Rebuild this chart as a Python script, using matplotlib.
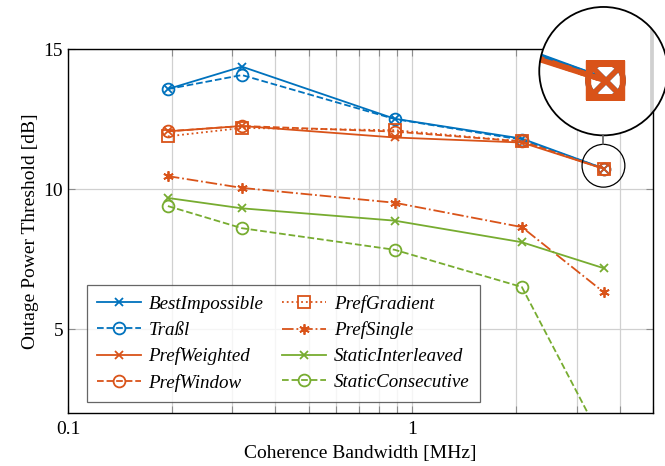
import numpy as np
import matplotlib
matplotlib.use('Agg')
from matplotlib import pyplot as plt
from matplotlib.patches import Circle
from matplotlib.transforms import IdentityTransform

# coherence bandwidth [MHz]
bandwidth = [0.195, 0.32, 0.888, 2.08, 3.6]

best_impossible = [13.57, 14.37, 12.51, 11.80, 10.73]
trassl = [13.57, 14.07, 12.50, 11.76, 10.73]
pref_weighted = [12.06, 12.25, 11.84, 11.66, 10.72]
pref_window = [12.06, 12.25, 12.05, 11.70, 10.72]
pref_gradient = [11.88, 12.18, 12.10, 11.70, 10.72]
pref_single = [10.46, 10.04, 9.51, 8.64, 6.31]
static_interleaved = [9.68, 9.31, 8.87, 8.10, 7.17]
static_consecutive = [9.39, 8.60, 7.83, 6.50, 0.9]

blue = '#0072BD'
orange = '#D95319'
green = '#77AC30'

series = [
    ('BestImpossible', best_impossible, blue, '-', 'x'),
    ('Traßl', trassl, blue, '--', 'o'),
    ('PrefWeighted', pref_weighted, orange, '-', 'x'),
    ('PrefWindow', pref_window, orange, '--', 'o'),
    ('PrefGradient', pref_gradient, orange, ':', 's'),
    ('PrefSingle', pref_single, orange, '-.', (6, 2, 0)),
    ('StaticInterleaved', static_interleaved, green, '-', 'x'),
    ('StaticConsecutive', static_consecutive, green, '--', 'o'),
]
msizes = {'x': 6, 'o': 8.5, 's': 8}

plt.rcParams['font.family'] = ['Liberation Serif', 'DejaVu Serif']


def draw(ax, k=1.0):
    for name, vals, col, ls, mk in series:
        ms = msizes.get(mk, 7.5) if isinstance(mk, str) else 7.5
        ax.plot(bandwidth, vals, color=col, linestyle=ls, marker=mk,
                markerfacecolor='none', markeredgecolor=col,
                markersize=ms * k, markeredgewidth=1.3 * k,
                linewidth=1.3 * k, label=name)


fig = plt.figure(figsize=(6.65, 4.66), dpi=100)
W, H = 665, 466
ax = fig.add_axes([68 / W, (H - 413) / H, (653 - 68) / W, (413 - 49) / H])
draw(ax)
ax.set_xscale('log')
ax.set_xlim(0.1, 5)
ax.set_ylim(2, 15)
ax.set_xticks([0.1, 1])
ax.set_xticklabels(['0.1', '1'])
ax.set_xticks([0.2, 0.3, 0.4, 0.5, 0.6, 0.7, 0.8, 0.9, 2, 3, 4, 5], minor=True)
ax.set_yticks([5, 10, 15])
ax.tick_params(which='both', direction='in', top=True, right=True,
               color='#8c8c8c', labelsize=14, length=5, width=0.8)
ax.tick_params(axis='x', pad=6)
ax.grid(True, which='both', color='#d0d0d0', linewidth=0.9)
ax.set_axisbelow(True)
for s in ax.spines.values():
    s.set_linewidth(1.0)
ax.set_xlabel('Coherence Bandwidth [MHz]', fontsize=14, labelpad=5)
ax.set_ylabel('Outage Power Threshold [dB]', fontsize=14, labelpad=3)

leg = ax.legend(ncol=2, loc='lower left', bbox_to_anchor=(0.032, 0.03),
                borderaxespad=0,
                prop={'family': 'Liberation Serif', 'style': 'italic', 'size': 13.7},
                frameon=True, fancybox=False, edgecolor='#404040',
                handlelength=2.3, columnspacing=1.0, labelspacing=0.45,
                borderpad=0.55, handletextpad=0.4)
leg.get_frame().set_linewidth(0.9)

# spy: magnified view of the last point
fig.canvas.draw()
xc, yc = 3.59, 10.83
cx, cy = ax.transData.transform((xc, yc))
r_small = 21.4
mag = 3.0
r_big = r_small * mag
bx, by = cx, cy + 94.6

fig.add_artist(Circle((cx, cy), r_small, transform=IdentityTransform(),
                      fill=False, edgecolor='black', linewidth=0.9, zorder=5))
fig.add_artist(plt.Line2D([cx, cx], [cy + r_small, by - r_big],
                          transform=IdentityTransform(), color='#606060',
                          linewidth=1.2, zorder=5))

ax_in = fig.add_axes([(bx - r_big) / W, (by - r_big) / H, 2 * r_big / W, 2 * r_big / H])
ax_in.set_xscale('log')
dec = r_small / (ax.transData.transform((10, 2))[0] - ax.transData.transform((1, 2))[0])
unit = r_small / (ax.transData.transform((1, 3))[1] - ax.transData.transform((1, 2))[1])
ax_in.axvline(4, color='#d0d0d0', linewidth=0.9 * mag)
draw(ax_in, mag)
ax_in.set_xlim(xc * 10 ** (-dec), xc * 10 ** dec)
ax_in.set_ylim(yc - unit, yc + unit)
ax_in.set_xticks([])
ax_in.set_yticks([])
ax_in.set_xticks([], minor=True)
for s in ax_in.spines.values():
    s.set_visible(False)
clip = Circle((0.5, 0.5), 0.5, transform=ax_in.transAxes)
ax_in.patch.set_clip_path(clip)
for art in ax_in.lines:
    art.set_clip_path(clip)
ax_in.add_patch(Circle((0.5, 0.5), 0.5, transform=ax_in.transAxes, fill=False,
                       edgecolor='black', linewidth=1.3, clip_on=False, zorder=10))

fig.savefig('out.png', dpi=100)
